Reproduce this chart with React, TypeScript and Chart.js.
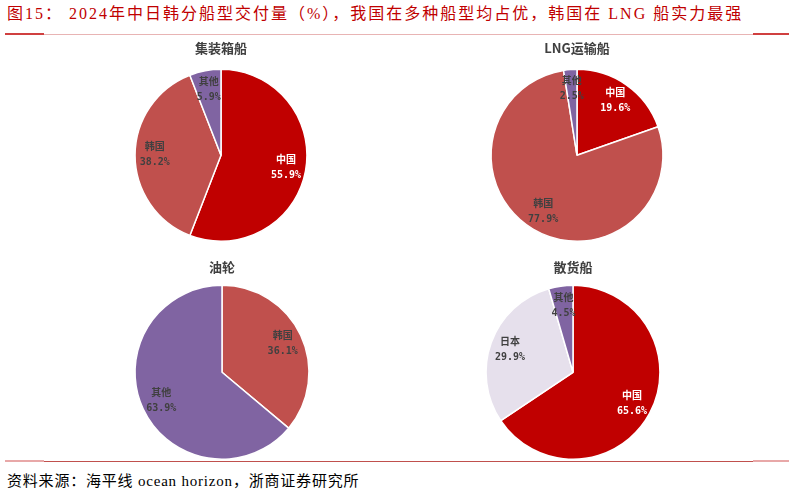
import { useEffect, useRef } from 'react';
import { Chart, PieController, ArcElement, Title, Plugin } from 'chart.js';

Chart.register(PieController, ArcElement, Title);

// shares of 2024 deliveries (%), clockwise from 12 o'clock
const containerLabels = ['中国', '韩国', '其他'];
const containerShares = [55.9, 38.2, 5.9];

const lngLabels = ['中国', '韩国', '其他'];
const lngShares = [19.6, 77.9, 2.5];

const tankerLabels = ['韩国', '其他'];
const tankerShares = [36.1, 63.9];

const bulkLabels = ['中国', '日本', '其他'];
const bulkShares = [65.6, 29.9, 4.5];

const sliceColors: Record<string, string> = {
  '中国': '#c00000',
  '韩国': '#c0504d',
  '其他': '#8064a2',
  '日本': '#e6e0ec',
};

// name + percentage drawn inside each slice
const sliceLabels: Plugin<'pie'> = {
  id: 'sliceLabels',
  afterDatasetsDraw(chart) {
    const ctx = chart.ctx;
    const meta = chart.getDatasetMeta(0);
    const labels = chart.data.labels as string[];
    const data = chart.data.datasets[0].data as number[];
    meta.data.forEach((el, i) => {
      const { x, y, startAngle, endAngle, outerRadius } = (el as any).getProps(
        ['x', 'y', 'startAngle', 'endAngle', 'outerRadius'],
        true
      );
      const mid = (startAngle + endAngle) / 2;
      const r = outerRadius * 0.77;
      const px = x + Math.cos(mid) * r;
      const py = y + Math.sin(mid) * r;
      ctx.save();
      ctx.fillStyle = labels[i] === '中国' ? '#ffffff' : '#404040';
      ctx.font = 'bold 10px "DejaVu Sans Mono", "Noto Sans CJK SC"';
      ctx.textAlign = 'center';
      ctx.textBaseline = 'middle';
      ctx.fillText(labels[i], px, py - 7.5);
      ctx.fillText(data[i].toFixed(1) + '%', px, py + 7.5);
      ctx.restore();
    });
  },
};

interface PieProps {
  title: string;
  labels: string[];
  values: number[];
  left: number;
  top: number;
  width: number;
  height: number;
  titleGap: number;
}

function ShipPie({ title, labels, values, left, top, width, height, titleGap }: PieProps) {
  const canvasRef = useRef<HTMLCanvasElement | null>(null);

  useEffect(() => {
    if (!canvasRef.current) return;
    const chart = new Chart(canvasRef.current, {
      type: 'pie',
      data: {
        labels,
        datasets: [{
          data: values,
          backgroundColor: labels.map(l => sliceColors[l]),
          borderColor: '#ffffff',
          borderWidth: 1.5,
          hoverOffset: 0,
        }],
      },
      options: {
        responsive: false,
        animation: false,
        layout: { padding: { bottom: 4 } },
        plugins: {
          legend: { display: false },
          tooltip: { enabled: false },
          title: {
            display: true,
            text: title,
            color: '#404040',
            font: { family: '"Noto Sans CJK SC", sans-serif', size: 13, weight: 'bold' },
            padding: { top: 0, bottom: titleGap },
          },
        },
      },
      plugins: [sliceLabels],
    });
    return () => chart.destroy();
  }, [title, labels, values, titleGap]);

  return (
    <div style={{ position: 'absolute', left, top, width, height }}>
      <canvas ref={canvasRef} width={width} height={height} style={{ width, height }} />
    </div>
  );
}

export default function App() {
  useEffect(() => {
    document.body.style.margin = '0';
  }, []);

  return (
    <div style={{ position: 'relative', width: 793, height: 494, background: '#fff', overflow: 'hidden' }}>
      <div style={{
        position: 'absolute', left: 7, top: 4, lineHeight: '20px', whiteSpace: 'nowrap',
        fontFamily: '"Liberation Serif", "Noto Sans CJK SC", serif', fontSize: 16, letterSpacing: 2,
        color: '#c00000',
      }}>
        图15： 2024年中日韩分船型交付量（%），我国在多种船型均占优，韩国在 LNG 船实力最强
      </div>

      {/* header rule */}
      <div style={{ position: 'absolute', left: 5, top: 34, width: 784, height: 1, background: '#e8b4b4' }} />
      <div style={{ position: 'absolute', left: 5, top: 33, width: 39, height: 2, background: '#d04040' }} />
      <div style={{ position: 'absolute', left: 753, top: 33, width: 36, height: 2, background: '#d04040' }} />

      <ShipPie title="集装箱船" labels={containerLabels} values={containerShares} left={71} top={40} width={300} height={206} titleGap={13} />
      <ShipPie title="LNG运输船" labels={lngLabels} values={lngShares} left={427} top={40} width={300} height={206} titleGap={13} />
      <ShipPie title="油轮" labels={tankerLabels} values={tankerShares} left={72} top={259} width={300} height={205} titleGap={10} />
      <ShipPie title="散货船" labels={bulkLabels} values={bulkShares} left={423} top={259} width={300} height={205} titleGap={10} />

      {/* footer rule */}
      <div style={{ position: 'absolute', left: 5, top: 461, width: 784, height: 1, background: '#c0504d' }} />
      <div style={{ position: 'absolute', left: 5, top: 460, width: 39, height: 2, background: '#e8a8a8' }} />
      <div style={{ position: 'absolute', left: 753, top: 460, width: 36, height: 2, background: '#e8a8a8' }} />

      <div style={{
        position: 'absolute', left: 7, top: 471, lineHeight: '20px', whiteSpace: 'nowrap',
        fontFamily: '"Liberation Serif", "Noto Sans CJK SC", serif', fontSize: 15, letterSpacing: 0.8,
        color: '#000',
      }}>
        资料来源：海平线 ocean horizon，浙商证券研究所
      </div>
    </div>
  );
}
